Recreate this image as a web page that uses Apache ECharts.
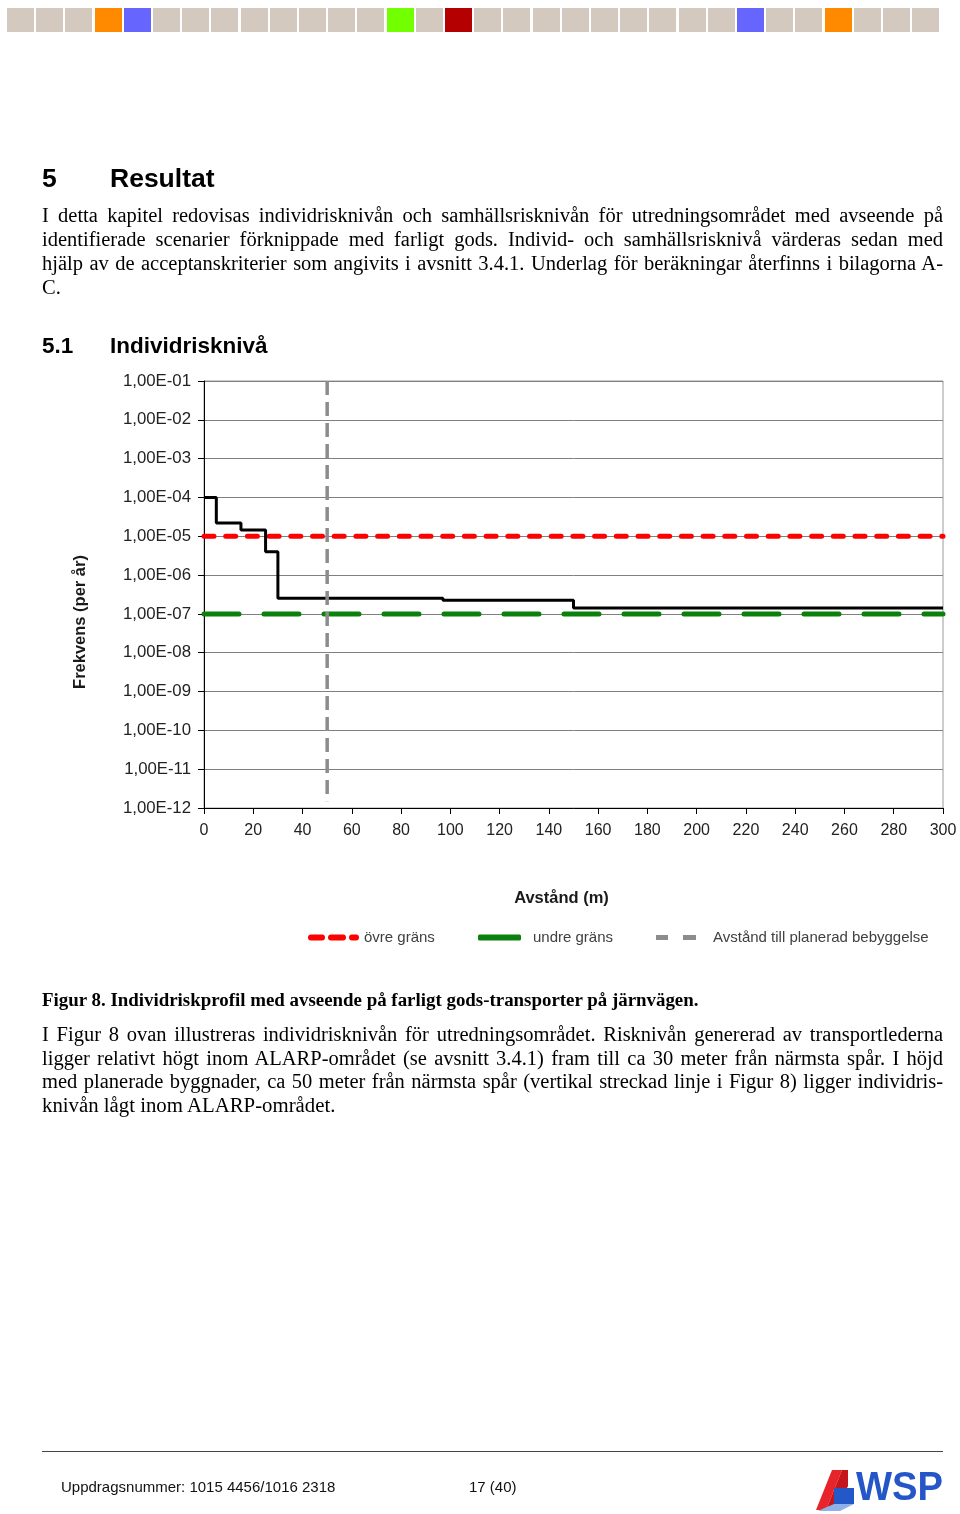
<!DOCTYPE html>
<html><head><meta charset="utf-8">
<script src="https://cdn.jsdelivr.net/npm/echarts@6/dist/echarts.min.js"></script>
<style>
html,body{margin:0;padding:0;background:#fff;}
#page{position:relative;width:960px;height:1514px;overflow:hidden;background:#fff;}
#chart{position:absolute;left:0;top:0;width:960px;height:1514px;}
.t{position:absolute;white-space:nowrap;color:#000;z-index:2;}
.serif{font-family:'Liberation Serif','Times New Roman',serif;}
.sans{font-family:'Liberation Sans',Arial,sans-serif;}
.j{left:42px;width:901px;text-align:justify;text-align-last:justify;}
.p1{font-size:20.5px;line-height:24px;height:24px;}
.sq{position:absolute;top:8px;width:27px;height:24px;z-index:2;}
</style></head>
<body>
<div id="page">
  <div id="chart"></div>
  <div id="bar"></div>

  <div class="t sans" style="left:42px;top:162px;font-size:26.5px;font-weight:bold;line-height:32px;">5</div>
  <div class="t sans" style="left:110px;top:162px;font-size:26.5px;font-weight:bold;line-height:32px;">Resultat</div>

  <div class="t serif j p1" style="top:203px;">I detta kapitel redovisas individrisknivån och samhällsrisknivån för utredningsområdet med avseende på</div>
  <div class="t serif j p1" style="top:227px;">identifierade scenarier förknippade med farligt gods. Individ- och samhällsrisknivå värderas sedan med</div>
  <div class="t serif j p1" style="top:251px;">hjälp av de acceptanskriterier som angivits i avsnitt 3.4.1. Underlag för beräkningar återfinns i bilagorna A-</div>
  <div class="t serif p1" style="left:42px;top:275px;">C.</div>

  <div class="t sans" style="left:42px;top:332px;font-size:22.5px;font-weight:bold;line-height:28px;">5.1</div>
  <div class="t sans" style="left:110px;top:332px;font-size:22.5px;font-weight:bold;line-height:28px;">Individrisknivå</div>

  <div class="t serif" style="left:42px;top:989px;font-size:18.9px;font-weight:bold;line-height:22px;">Figur 8. Individriskprofil med avseende på farligt gods-transporter på järnvägen.</div>

  <div class="t serif j p1" style="top:1022px;">I Figur 8 ovan illustreras individrisknivån för utredningsområdet. Risknivån genererad av transportlederna</div>
  <div class="t serif j p1" style="top:1046px;">ligger relativt högt inom ALARP-området (se avsnitt 3.4.1) fram till ca 30 meter från närmsta spår. I höjd</div>
  <div class="t serif j p1" style="top:1069px;">med planerade byggnader, ca 50 meter från närmsta spår (vertikal streckad linje i Figur 8) ligger individris-</div>
  <div class="t serif p1" style="left:42px;top:1093px;font-size:20.8px;">knivån lågt inom ALARP-området.</div>

  <div style="position:absolute;left:42px;top:1451px;width:901px;height:1px;background:#444;z-index:2;"></div>
  <div class="t sans" style="left:61px;top:1478px;font-size:15px;line-height:18px;color:#111;">Uppdragsnummer: 1015 4456/1016 2318</div>
  <div class="t sans" style="left:469px;top:1478px;font-size:15px;line-height:18px;color:#111;">17 (40)</div>

  <svg style="position:absolute;left:812px;top:1464px;z-index:2;" width="140" height="48" viewBox="0 0 140 48">
    <polygon points="4,46 20,6 30,6 14,46" fill="#e8242b"/>
    <polygon points="14,46 30,6 36,6 36,22 24,46" fill="#c4161c"/>
    <polygon points="22,24 42,24 42,40 22,40" fill="#2358c8"/>
    <polygon points="8,46 22,40 42,40 28,47 6,47" fill="#8fb0e8"/>
    <text x="44" y="36" font-family="'Liberation Sans',Arial,sans-serif" font-weight="bold" font-size="40" fill="#2456c8" textLength="87" lengthAdjust="spacingAndGlyphs">WSP</text>
  </svg>
</div>
<script>
// ---- data ----
const barColors = ['#d3c9be','#d3c9be','#d3c9be','#ff8a00','#6666ff','#d3c9be','#d3c9be','#d3c9be','#d3c9be','#d3c9be','#d3c9be','#d3c9be','#d3c9be','#72ff00','#d3c9be','#b40000','#d3c9be','#d3c9be','#d3c9be','#d3c9be','#d3c9be','#d3c9be','#d3c9be','#d3c9be','#d3c9be','#6666ff','#d3c9be','#d3c9be','#ff8a00','#d3c9be','#d3c9be','#d3c9be'];
const distances = [0, 5, 15, 25, 30, 97, 150, 300];
const riskValues = [1e-4, 2.2e-5, 1.45e-5, 4.0e-6, 2.55e-7, 2.25e-7, 1.42e-7, 1.42e-7];
const upperLimit = 1e-5;
const lowerLimit = 1e-7;
const plannedDistance = 50;
const xMin = 0, xMax = 300, xStep = 20;
const yTickLabels = ['1,00E-12','1,00E-11','1,00E-10','1,00E-09','1,00E-08','1,00E-07','1,00E-06','1,00E-05','1,00E-04','1,00E-03','1,00E-02','1,00E-01'];
const legendNames = ['övre gräns', 'undre gräns', 'Avstånd till planerad bebyggelse'];
const xAxisName = 'Avstånd (m)';
const yAxisName = 'Frekvens (per år)';

// top decorative squares
const bar = document.getElementById('bar');
barColors.forEach((c, i) => {
  const d = document.createElement('div');
  d.className = 'sq';
  d.style.left = (7 + i * 29.2).toFixed(1) + 'px';
  d.style.background = c;
  bar.appendChild(d);
});

const chart = echarts.init(document.getElementById('chart'), null, {renderer: 'canvas'});
const sansFont = "'Liberation Sans', Arial, sans-serif";
const option = {
  animation: false,
  backgroundColor: '#fff',
  textStyle: {fontFamily: sansFont},
  grid: {left: 204, right: 17, top: 381, bottom: 706, show: true, borderColor: '#9a9a9a', borderWidth: 1, backgroundColor: 'transparent'},
  legend: [
    {data: [legendNames[0]], left: 308, top: 930, padding: 0, itemWidth: 51, itemHeight: 6, selectedMode: false,
     icon: 'path://M3,0H14A3,3,0,0,1,14,6H3A3,3,0,0,1,3,0Z M23,0H35A3,3,0,0,1,35,6H23A3,3,0,0,1,23,0Z M44,0H48A3,3,0,0,1,48,6H44A3,3,0,0,1,44,0Z M0,3H0.01 M51,3H50.99',
     textStyle: {fontSize: 15, color: '#404040', fontFamily: sansFont}},
    {data: [legendNames[1]], left: 478, top: 930, padding: 0, itemWidth: 43, itemHeight: 6, selectedMode: false,
     icon: 'roundRect',
     textStyle: {fontSize: 15, color: '#404040', fontFamily: sansFont, padding: [0, 0, 0, 7]}},
    {data: [legendNames[2]], left: 656, top: 930, padding: 0, itemWidth: 40, itemHeight: 5, selectedMode: false,
     icon: 'path://M0,0H12V5H0Z M27,0H40V5H27Z',
     textStyle: {fontSize: 15, color: '#404040', fontFamily: sansFont, padding: [0, 0, 0, 12]}}
  ],
  xAxis: {
    type: 'value', min: xMin, max: xMax, interval: xStep,
    name: xAxisName, nameLocation: 'middle', nameGap: 82,
    nameTextStyle: {fontSize: 16.5, fontWeight: 'bold', color: '#1a1a1a', padding: [0, 24, 0, 0]},
    axisLine: {show: true, lineStyle: {color: '#000', width: 1}},
    axisTick: {show: true, length: 6, lineStyle: {color: '#000'}},
    axisLabel: {fontSize: 16, color: '#222', margin: 15},
    splitLine: {show: false}
  },
  yAxis: {
    type: 'log', logBase: 10, min: 1e-12, max: 1e-1, interval: 1,
    name: yAxisName, nameLocation: 'middle', nameGap: 115,
    nameTextStyle: {fontSize: 16.5, fontWeight: 'bold', color: '#1a1a1a', padding: [0, 55, 0, 0]},
    axisLine: {show: true, lineStyle: {color: '#000', width: 1}},
    axisTick: {show: true, length: 6, lineStyle: {color: '#000'}},
    axisLabel: {fontSize: 16.8, color: '#222', margin: 13,
      formatter: v => yTickLabels[Math.round(Math.log10(v)) + 12]},
    splitLine: {show: true, lineStyle: {color: '#808080', width: 1}}
  },
  series: [
    {name: legendNames[0], type: 'line', symbol: 'none', color: '#ff0000', z: 3,
     lineStyle: {color: '#ff0000', width: 5, type: [10, 11.7], cap: 'round'},
     data: [[xMin, upperLimit], [xMax, upperLimit]]},
    {name: legendNames[1], type: 'line', symbol: 'none', color: '#0c800c', z: 3,
     lineStyle: {color: '#0c800c', width: 5, type: [35, 25], cap: 'round'},
     data: [[xMin, lowerLimit], [xMax, lowerLimit]]},
    {name: 'Individrisk', type: 'line', step: 'end', symbol: 'none', color: '#000', z: 4,
     lineStyle: {color: '#000', width: 3},
     data: distances.map((d, i) => [d, riskValues[i]])},
    {name: legendNames[2], type: 'line', symbol: 'none', color: '#8c8c8c', z: 5,
     lineStyle: {color: '#8c8c8c', width: 3.5, type: [14, 7]},
     data: [[plannedDistance, 1e-1], [plannedDistance, 1.5e-12]]}
  ]
};
chart.setOption(option);
</script>
</body></html>
